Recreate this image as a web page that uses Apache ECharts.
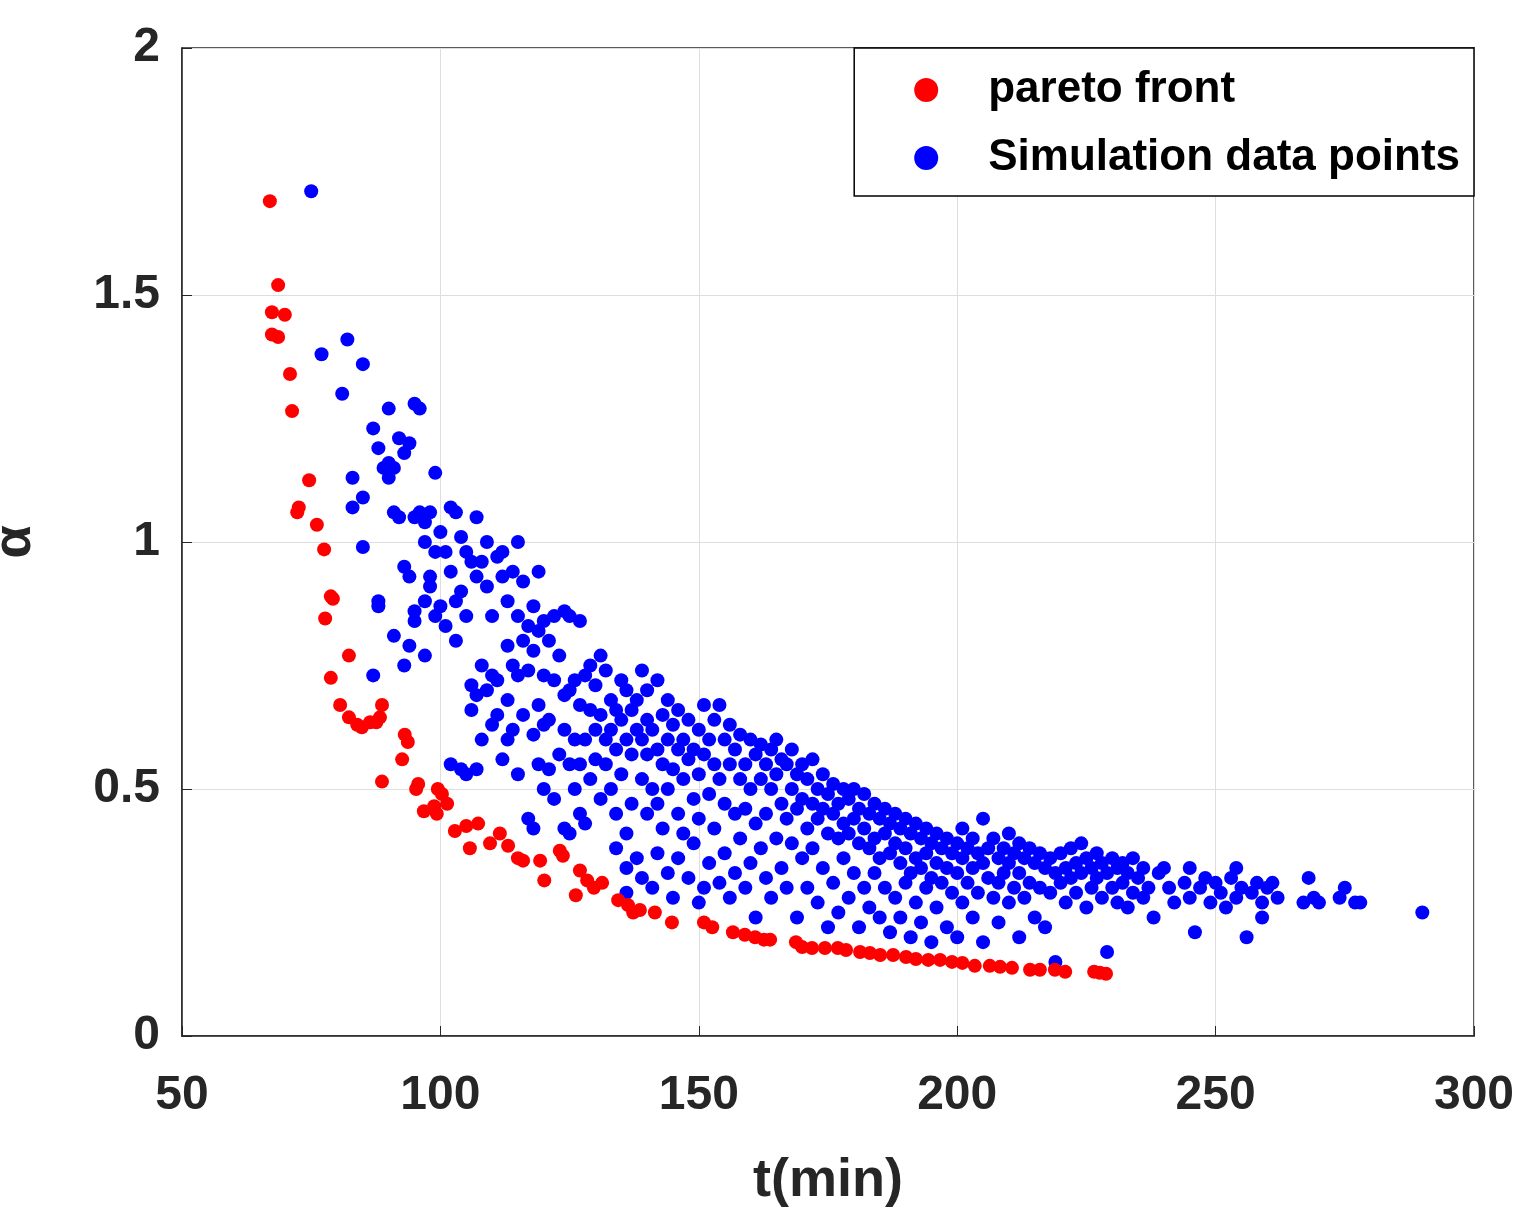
<!DOCTYPE html>
<html><head><meta charset="utf-8">
<script src="https://cdn.jsdelivr.net/npm/echarts@6/dist/echarts.min.js"></script>
<style>html,body{margin:0;padding:0;background:#fff}#c{width:1535px;height:1227px}</style>
</head><body><div id="c"></div>
<script>
const xTicks=[50,100,150,200,250,300];
const yTicks=[0,0.5,1,1.5,2];
const paretoFront=[[67,1.69],[68.6,1.52],[67.4,1.465],[69.9,1.46],[67.4,1.42],[68.6,1.415],[70.9,1.34],[71.3,1.265],[74.6,1.125],[72.3,1.06],[72.6,1.07],[76.1,1.035],[77.5,0.985],[78.8,0.89],[79.2,0.885],[77.7,0.845],[82.3,0.77],[78.8,0.725],[80.6,0.67],[82.3,0.645],[83.9,0.63],[84.8,0.625],[86.4,0.635],[87.6,0.635],[88.3,0.645],[88.7,0.67],[88.7,0.515],[93.1,0.61],[93.7,0.595],[92.6,0.56],[95.7,0.51],[95.3,0.5],[96.8,0.455],[98.8,0.465],[99.3,0.45],[100.3,0.49],[101.3,0.47],[99.5,0.5],[102.8,0.415],[105,0.425],[107.3,0.43],[105.7,0.38],[109.6,0.39],[111.5,0.41],[113.1,0.385],[115,0.36],[116,0.355],[119.3,0.355],[120.1,0.315],[123.1,0.375],[123.7,0.365],[126.2,0.285],[127,0.335],[128.4,0.315],[129.7,0.3],[131.3,0.31],[134.4,0.275],[136.3,0.265],[137.3,0.25],[138.6,0.255],[141.5,0.25],[144.8,0.23],[151,0.23],[152.6,0.22],[156.6,0.21],[158.9,0.205],[160.9,0.2],[162.6,0.195],[163.8,0.195],[168.8,0.19],[170,0.18],[171.9,0.178],[174.4,0.178],[176.9,0.178],[178.5,0.174],[181.2,0.17],[183.1,0.168],[185.1,0.164],[187.6,0.164],[190.1,0.16],[192,0.156],[194.4,0.154],[196.7,0.154],[199,0.15],[201,0.148],[203.4,0.142],[206.3,0.142],[208.3,0.14],[210.6,0.138],[214.1,0.134],[216,0.134],[218.9,0.134],[220.9,0.13],[226.5,0.13],[227.6,0.128],[228.8,0.126]];
const simulationPoints=[[75,1.71],[77,1.38],[81,1.30],[82,1.41],[83,1.13],[83,1.07],[85,1.36],[85,1.09],[85,0.99],[87,1.23],[88,1.19],[88,0.88],[88,0.87],[87,0.73],[89,1.15],[90,1.16],[90,1.13],[90,1.27],[91,1.15],[91,1.06],[91,0.81],[92,1.21],[92,1.05],[93,1.18],[93,0.95],[93,0.75],[94,1.2],[94,0.93],[94,0.79],[95,1.28],[95,1.05],[95,0.86],[95,0.84],[96,1.27],[96,1.06],[97,1.04],[97,1.0],[97,0.88],[97,0.77],[98,1.06],[98,0.93],[98,0.91],[99,1.14],[99,0.98],[99,0.85],[100,1.02],[100,0.87],[101,0.98],[101,0.83],[102,1.07],[102,0.94],[102,0.55],[103,1.06],[103,0.88],[103,0.8],[104,1.01],[104,0.9],[104,0.54],[105,0.98],[105,0.85],[105,0.53],[106,0.96],[106,0.71],[106,0.66],[107,1.05],[107,0.93],[107,0.69],[107,0.54],[108,0.96],[108,0.75],[108,0.6],[109,1.0],[109,0.91],[109,0.7],[110,0.85],[110,0.73],[110,0.63],[111,0.97],[111,0.72],[111,0.65],[112,0.98],[112,0.93],[112,0.56],[113,0.88],[113,0.79],[113,0.68],[113,0.6],[114,0.94],[114,0.75],[114,0.62],[115,1.0],[115,0.85],[115,0.73],[115,0.53],[116,0.92],[116,0.8],[116,0.65],[117,0.83],[117,0.74],[117,0.44],[118,0.87],[118,0.78],[118,0.61],[118,0.42],[119,0.94],[119,0.82],[119,0.67],[119,0.55],[120,0.84],[120,0.73],[120,0.63],[120,0.5],[121,0.8],[121,0.64],[121,0.54],[122,0.85],[122,0.72],[122,0.48],[123,0.77],[123,0.57],[124,0.86],[124,0.69],[124,0.62],[124,0.42],[125,0.85],[125,0.7],[125,0.55],[125,0.41],[126,0.72],[126,0.6],[126,0.5],[127,0.84],[127,0.67],[127,0.55],[127,0.45],[128,0.73],[128,0.6],[128,0.43],[129,0.75],[129,0.66],[129,0.52],[130,0.71],[130,0.62],[130,0.56],[131,0.77],[131,0.65],[131,0.48],[132,0.74],[132,0.6],[132,0.55],[133,0.68],[133,0.62],[133,0.5],[134,0.66],[134,0.58],[134,0.45],[134,0.38],[135,0.72],[135,0.64],[135,0.53],[136,0.7],[136,0.6],[136,0.41],[136,0.34],[136,0.29],[137,0.66],[137,0.57],[137,0.47],[138,0.68],[138,0.62],[138,0.36],[139,0.74],[139,0.6],[139,0.52],[139,0.32],[140,0.7],[140,0.64],[140,0.57],[140,0.45],[141,0.62],[141,0.5],[141,0.3],[142,0.72],[142,0.58],[142,0.47],[142,0.37],[143,0.65],[143,0.55],[143,0.42],[144,0.68],[144,0.6],[144,0.5],[144,0.33],[145,0.63],[145,0.54],[145,0.28],[146,0.66],[146,0.58],[146,0.45],[146,0.36],[147,0.6],[147,0.52],[147,0.41],[148,0.64],[148,0.56],[148,0.32],[149,0.58],[149,0.48],[149,0.39],[150,0.62],[150,0.53],[150,0.44],[150,0.27],[151,0.67],[151,0.57],[151,0.3],[152,0.6],[152,0.49],[152,0.35],[153,0.64],[153,0.55],[153,0.42],[154,0.67],[154,0.52],[154,0.31],[155,0.6],[155,0.47],[155,0.37],[156,0.63],[156,0.55],[156,0.28],[157,0.58],[157,0.45],[157,0.33],[158,0.61],[158,0.52],[158,0.4],[159,0.55],[159,0.46],[159,0.3],[160,0.6],[160,0.5],[160,0.35],[161,0.57],[161,0.43],[161,0.24],[162,0.59],[162,0.52],[162,0.38],[163,0.55],[163,0.45],[163,0.32],[164,0.58],[164,0.5],[164,0.28],[165,0.6],[165,0.53],[165,0.4],[166,0.56],[166,0.47],[166,0.34],[167,0.55],[167,0.44],[167,0.3],[168,0.58],[168,0.5],[168,0.39],[169,0.53],[169,0.46],[169,0.24],[170,0.55],[170,0.48],[170,0.36],[171,0.52],[171,0.42],[171,0.3],[172,0.56],[172,0.47],[172,0.38],[173,0.5],[173,0.44],[173,0.27],[174,0.53],[174,0.46],[174,0.34],[175,0.49],[175,0.41],[175,0.22],[176,0.51],[176,0.45],[176,0.31],[177,0.47],[177,0.4],[177,0.25],[178,0.5],[178,0.43],[178,0.36],[179,0.48],[179,0.41],[179,0.28],[180,0.5],[180,0.44],[180,0.33],[181,0.46],[181,0.39],[181,0.22],[182,0.49],[182,0.42],[182,0.3],[183,0.45],[183,0.38],[183,0.26],[184,0.47],[184,0.4],[184,0.33],[185,0.44],[185,0.36],[185,0.24],[186,0.46],[186,0.41],[186,0.3],[187,0.43],[187,0.37],[187,0.21],[188,0.45],[188,0.39],[188,0.28],[189,0.42],[189,0.35],[189,0.24],[190,0.44],[190,0.38],[190,0.31],[191,0.41],[191,0.33],[191,0.2],[192,0.43],[192,0.36],[192,0.27],[193,0.4],[193,0.34],[193,0.23],[194,0.42],[194,0.37],[194,0.3],[195,0.39],[195,0.32],[195,0.19],[196,0.41],[196,0.35],[196,0.26],[197,0.38],[197,0.31],[198,0.4],[198,0.34],[198,0.22],[199,0.37],[199,0.29],[200,0.39],[200,0.33],[200,0.2],[201,0.42],[201,0.36],[201,0.27],[202,0.38],[202,0.31],[203,0.4],[203,0.34],[203,0.24],[204,0.37],[204,0.29],[205,0.44],[205,0.35],[205,0.19],[206,0.38],[206,0.32],[207,0.4],[207,0.28],[208,0.36],[208,0.31],[208,0.23],[209,0.38],[209,0.33],[210,0.41],[210,0.35],[210,0.27],[211,0.37],[211,0.3],[212,0.39],[212,0.33],[212,0.2],[213,0.36],[213,0.28],[214,0.38],[214,0.31],[215,0.35],[215,0.24],[216,0.37],[216,0.3],[217,0.34],[217,0.22],[218,0.36],[218,0.29],[219,0.33],[219,0.15],[220,0.37],[220,0.31],[221,0.34],[221,0.27],[222,0.38],[222,0.32],[223,0.35],[223,0.29],[224,0.39],[224,0.33],[225,0.36],[225,0.26],[226,0.34],[226,0.3],[227,0.37],[227,0.32],[228,0.35],[228,0.28],[229,0.33],[229,0.17],[230,0.36],[230,0.3],[231,0.34],[231,0.27],[232,0.35],[232,0.31],[233,0.33],[233,0.26],[234,0.36],[234,0.29],[235,0.32],[236,0.34],[236,0.28],[237,0.3],[238,0.24],[239,0.33],[240,0.34],[241,0.3],[242,0.27],[244,0.31],[245,0.34],[245,0.28],[246,0.21],[247,0.3],[248,0.32],[249,0.27],[250,0.31],[251,0.29],[252,0.26],[253,0.32],[254,0.34],[254,0.28],[255,0.3],[256,0.2],[257,0.29],[258,0.31],[259,0.27],[259,0.24],[260,0.3],[261,0.31],[262,0.28],[267,0.27],[268,0.32],[269,0.28],[270,0.27],[274,0.28],[275,0.3],[277,0.27],[278,0.27],[290,0.25]];

const chart=echarts.init(document.getElementById('c'));
const F='Arial, "Liberation Sans", sans-serif';
const lab={fontFamily:F,fontWeight:'bold',fontSize:48,color:'#262626'};
chart.setOption({
  animation:false,
  grid:{left:182,right:61,top:48,bottom:191,containLabel:false,outerBoundsMode:'none',show:true,borderColor:'#262626',borderWidth:1.5,backgroundColor:'#fff'},
  legend:{right:61,top:48,orient:'vertical',itemWidth:24,itemHeight:24,itemGap:24,
    padding:[20,14,16,60],borderColor:'#000',borderWidth:1.5,backgroundColor:'#fff',icon:'circle',
    textStyle:{fontFamily:F,fontWeight:'bold',fontSize:44,color:'#000',padding:[0,0,0,45]},
    data:['pareto front','Simulation data points']},
  xAxis:{type:'value',min:50,max:300,interval:50,name:'t(min)',nameLocation:'middle',nameGap:118,
    nameTextStyle:{fontFamily:F,fontWeight:'bold',fontSize:54,color:'#262626'},
    axisLine:{lineStyle:{color:'#262626',width:1.5}},axisTick:{inside:true,length:10,lineStyle:{color:'#262626'}},
    axisLabel:Object.assign({margin:36,formatter:v=>xTicks.includes(v)?String(v):''},lab),
    splitLine:{show:true,lineStyle:{color:'#dedede',width:1}}},
  yAxis:{type:'value',min:0,max:2,interval:0.5,name:'α',nameLocation:'middle',nameGap:140,nameRotate:90,
    nameTextStyle:{fontFamily:F,fontWeight:'bold',fontSize:54,color:'#262626'},
    axisLine:{lineStyle:{color:'#262626',width:1.5}},axisTick:{inside:true,length:10,lineStyle:{color:'#262626'}},
    axisLabel:Object.assign({margin:22,formatter:v=>yTicks.includes(v)?String(v):''},lab),
    splitLine:{show:true,lineStyle:{color:'#dedede',width:1}}},
  series:[
    {name:'pareto front',type:'scatter',data:paretoFront,symbolSize:14,itemStyle:{color:'#ff0000',opacity:1},z:3},
    {name:'Simulation data points',type:'scatter',data:simulationPoints,symbolSize:14,itemStyle:{color:'#0000ff',opacity:1},z:2}
  ]
});
</script></body></html>
